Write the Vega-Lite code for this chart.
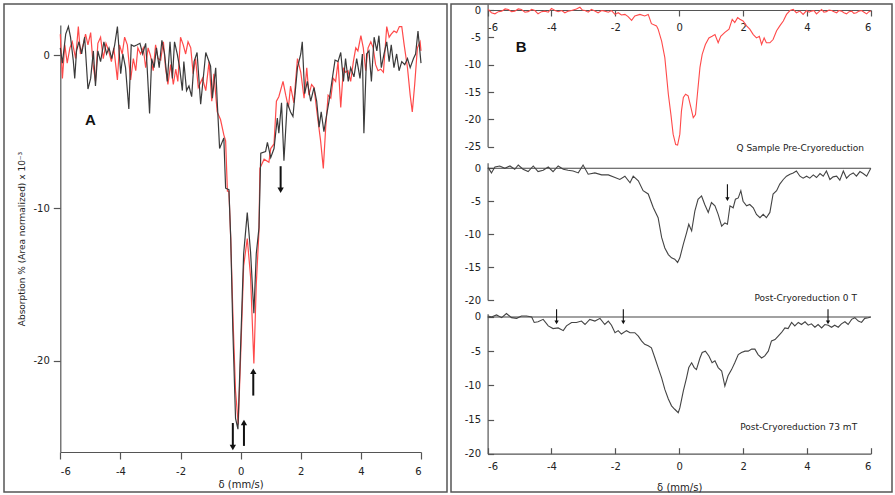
{
"$schema":"https://vega.github.io/schema/vega-lite/v6.json",
"padding":{"left":3,"top":3,"right":0,"bottom":0},
"background":"white",
"spacing":2,
"config":{
 "view":{"stroke":"#555","strokeWidth":1.5},
 "font":"DejaVu Sans",
 "axis":{"grid":false,"labelFont":"DejaVu Sans","labelFontSize":10,"labelColor":"#222","domainColor":"#555","tickColor":"#555","domainWidth":1.2,"tickWidth":1.2,"titleFont":"DejaVu Sans","titleFontWeight":"normal","titleColor":"#222"}
},
"datasets":{
 "ablack":[{"x":-6,"y":0.5},{"x":-5.93,"y":-0.5},{"x":-5.82,"y":1.4},{"x":-5.73,"y":1.9},{"x":-5.66,"y":1.2},{"x":-5.57,"y":-0.3},{"x":-5.52,"y":-1.5},{"x":-5.46,"y":0.3},{"x":-5.38,"y":0.9},{"x":-5.29,"y":0.1},{"x":-5.19,"y":1.2},{"x":-5.08,"y":-2.2},{"x":-4.99,"y":-1.5},{"x":-4.9,"y":0.3},{"x":-4.83,"y":-2.0},{"x":-4.75,"y":0.3},{"x":-4.66,"y":-0.4},{"x":-4.55,"y":0.9},{"x":-4.46,"y":0.1},{"x":-4.38,"y":0.5},{"x":-4.29,"y":-0.2},{"x":-4.19,"y":0.7},{"x":-4.1,"y":1.9},{"x":-3.99,"y":-1.2},{"x":-3.92,"y":0.1},{"x":-3.83,"y":-0.8},{"x":-3.72,"y":-3.5},{"x":-3.64,"y":0.7},{"x":-3.55,"y":0.6},{"x":-3.44,"y":0.7},{"x":-3.35,"y":0.8},{"x":-3.26,"y":0.1},{"x":-3.16,"y":0.8},{"x":-3.11,"y":-0.8},{"x":-3.03,"y":-3.8},{"x":-2.96,"y":-0.2},{"x":-2.88,"y":-0.8},{"x":-2.8,"y":0.5},{"x":-2.71,"y":-0.8},{"x":-2.62,"y":1.0},{"x":-2.53,"y":0.1},{"x":-2.44,"y":-1.7},{"x":-2.35,"y":0.9},{"x":-2.27,"y":-1.5},{"x":-2.2,"y":0.9},{"x":-2.11,"y":0.1},{"x":-2.03,"y":-0.8},{"x":-1.94,"y":-2.3},{"x":-1.89,"y":-0.4},{"x":-1.8,"y":-2.3},{"x":-1.72,"y":-2.0},{"x":-1.63,"y":-2.7},{"x":-1.55,"y":-0.4},{"x":-1.45,"y":0.2},{"x":-1.33,"y":-3.2},{"x":-1.16,"y":0.2},{"x":-1.0,"y":-0.7},{"x":-0.94,"y":-2.8},{"x":-0.83,"y":-0.8},{"x":-0.78,"y":-3.0},{"x":-0.7,"y":-6.1},{"x":-0.56,"y":-5.4},{"x":-0.5,"y":-8.7},{"x":-0.39,"y":-8.8},{"x":-0.33,"y":-12.0},{"x":-0.26,"y":-18.0},{"x":-0.17,"y":-23.8},{"x":-0.09,"y":-24.5},{"x":0.0,"y":-19.0},{"x":0.1,"y":-13.0},{"x":0.22,"y":-10.3},{"x":0.33,"y":-12.9},{"x":0.44,"y":-16.9},{"x":0.52,"y":-13.0},{"x":0.61,"y":-11.3},{"x":0.67,"y":-6.4},{"x":0.83,"y":-6.3},{"x":0.89,"y":-5.7},{"x":1.0,"y":-6.7},{"x":1.11,"y":-6.1},{"x":1.22,"y":-4.1},{"x":1.27,"y":-5.1},{"x":1.36,"y":-3.1},{"x":1.44,"y":-6.9},{"x":1.55,"y":-3.1},{"x":1.66,"y":-3.7},{"x":1.74,"y":-4.0},{"x":1.89,"y":-0.8},{"x":2.0,"y":0.1},{"x":2.05,"y":0.9},{"x":2.13,"y":-2.5},{"x":2.22,"y":-1.7},{"x":2.33,"y":-3.0},{"x":2.44,"y":-2.1},{"x":2.53,"y":-3.0},{"x":2.61,"y":-4.7},{"x":2.68,"y":-3.7},{"x":2.77,"y":-5.0},{"x":2.86,"y":-3.9},{"x":2.94,"y":-3.0},{"x":3.05,"y":-1.5},{"x":3.14,"y":-0.3},{"x":3.24,"y":-0.4},{"x":3.33,"y":0.2},{"x":3.42,"y":-1.7},{"x":3.49,"y":-0.2},{"x":3.58,"y":-1.7},{"x":3.66,"y":-0.8},{"x":3.77,"y":-1.4},{"x":3.86,"y":-0.2},{"x":3.97,"y":-1.5},{"x":4.05,"y":0.1},{"x":4.1,"y":-5.1},{"x":4.19,"y":0.1},{"x":4.27,"y":0.3},{"x":4.35,"y":-1.7},{"x":4.44,"y":1.2},{"x":4.53,"y":0.3},{"x":4.6,"y":1.3},{"x":4.68,"y":-0.8},{"x":4.77,"y":0.1},{"x":4.86,"y":0.9},{"x":4.94,"y":-0.4},{"x":5.01,"y":0.7},{"x":5.1,"y":-0.8},{"x":5.19,"y":0.1},{"x":5.27,"y":-1.0},{"x":5.36,"y":-0.4},{"x":5.46,"y":-0.6},{"x":5.55,"y":-0.2},{"x":5.64,"y":-0.8},{"x":5.75,"y":-0.2},{"x":5.82,"y":0.1},{"x":5.9,"y":1.6},{"x":6.0,"y":-0.5}],
 "ared":[{"x":-6,"y":1.4},{"x":-5.93,"y":-1.5},{"x":-5.85,"y":0.7},{"x":-5.77,"y":-0.5},{"x":-5.68,"y":0.5},{"x":-5.6,"y":0.9},{"x":-5.49,"y":-0.2},{"x":-5.4,"y":1.9},{"x":-5.33,"y":0.1},{"x":-5.24,"y":0.7},{"x":-5.16,"y":1.4},{"x":-5.08,"y":0.7},{"x":-4.99,"y":1.5},{"x":-4.91,"y":-0.6},{"x":-4.83,"y":-1.7},{"x":-4.75,"y":0.8},{"x":-4.66,"y":1.2},{"x":-4.57,"y":-0.2},{"x":-4.48,"y":0.8},{"x":-4.39,"y":0.3},{"x":-4.3,"y":-0.4},{"x":-4.22,"y":0.5},{"x":-4.1,"y":-1.6},{"x":-4.03,"y":0.7},{"x":-3.94,"y":0.1},{"x":-3.86,"y":1.2},{"x":-3.77,"y":0.7},{"x":-3.66,"y":-1.6},{"x":-3.57,"y":-0.2},{"x":-3.49,"y":-1.0},{"x":-3.42,"y":0.5},{"x":-3.33,"y":0.1},{"x":-3.24,"y":0.5},{"x":-3.16,"y":-0.8},{"x":-3.08,"y":0.5},{"x":-3.0,"y":0.0},{"x":-2.91,"y":-1.0},{"x":-2.83,"y":0.7},{"x":-2.75,"y":-0.2},{"x":-2.66,"y":-0.3},{"x":-2.57,"y":0.9},{"x":-2.5,"y":-0.8},{"x":-2.42,"y":-1.9},{"x":-2.33,"y":-0.6},{"x":-2.24,"y":-1.9},{"x":-2.16,"y":-0.9},{"x":-2.09,"y":-1.7},{"x":-2.0,"y":1.2},{"x":-1.91,"y":0.7},{"x":-1.83,"y":0.1},{"x":-1.75,"y":0.9},{"x":-1.66,"y":0.5},{"x":-1.58,"y":-1.2},{"x":-1.5,"y":-0.2},{"x":-1.41,"y":-2.1},{"x":-1.27,"y":-1.5},{"x":-1.16,"y":-2.3},{"x":-1.05,"y":-0.4},{"x":-0.96,"y":-3.0},{"x":-0.89,"y":-1.2},{"x":-0.78,"y":-3.7},{"x":-0.67,"y":-4.2},{"x":-0.56,"y":-5.2},{"x":-0.5,"y":-5.6},{"x":-0.44,"y":-8.9},{"x":-0.39,"y":-8.9},{"x":-0.33,"y":-12.0},{"x":-0.25,"y":-17.5},{"x":-0.17,"y":-22.0},{"x":-0.08,"y":-24.2},{"x":0.0,"y":-19.7},{"x":0.1,"y":-13.8},{"x":0.22,"y":-12.0},{"x":0.33,"y":-14.5},{"x":0.44,"y":-20.2},{"x":0.52,"y":-15.0},{"x":0.61,"y":-11.5},{"x":0.64,"y":-7.4},{"x":0.78,"y":-6.8},{"x":0.94,"y":-7.0},{"x":1.0,"y":-6.1},{"x":1.11,"y":-5.8},{"x":1.19,"y":-3.0},{"x":1.27,"y":-2.7},{"x":1.41,"y":-1.7},{"x":1.5,"y":-2.6},{"x":1.59,"y":-3.4},{"x":1.66,"y":-2.0},{"x":1.77,"y":-3.1},{"x":1.89,"y":-0.2},{"x":2.0,"y":-1.1},{"x":2.11,"y":-2.8},{"x":2.2,"y":-0.8},{"x":2.27,"y":-2.6},{"x":2.36,"y":-1.9},{"x":2.44,"y":-2.1},{"x":2.55,"y":-3.9},{"x":2.66,"y":-5.6},{"x":2.75,"y":-7.4},{"x":2.83,"y":-4.7},{"x":2.91,"y":-2.6},{"x":3.0,"y":-2.8},{"x":3.08,"y":-1.5},{"x":3.16,"y":-1.7},{"x":3.24,"y":-0.4},{"x":3.33,"y":-3.4},{"x":3.42,"y":-0.8},{"x":3.49,"y":-1.1},{"x":3.57,"y":-1.0},{"x":3.66,"y":-1.7},{"x":3.75,"y":-0.4},{"x":3.83,"y":0.5},{"x":3.9,"y":0.3},{"x":4.0,"y":1.3},{"x":4.08,"y":0.5},{"x":4.16,"y":-1.0},{"x":4.24,"y":0.5},{"x":4.33,"y":0.9},{"x":4.41,"y":0.5},{"x":4.49,"y":-0.6},{"x":4.57,"y":-1.0},{"x":4.66,"y":-0.9},{"x":4.75,"y":-1.1},{"x":4.86,"y":1.9},{"x":4.94,"y":1.2},{"x":5.01,"y":1.4},{"x":5.1,"y":1.6},{"x":5.19,"y":1.5},{"x":5.28,"y":1.9},{"x":5.36,"y":1.9},{"x":5.44,"y":0.7},{"x":5.55,"y":-0.8},{"x":5.64,"y":-2.6},{"x":5.71,"y":-3.7},{"x":5.79,"y":-1.9},{"x":5.88,"y":0.5},{"x":5.97,"y":0.9},{"x":6.0,"y":0.3}],
 "b1":[{"x":-5.98,"y":0.1},{"x":-5.88,"y":-0.5},{"x":-5.77,"y":-0.7},{"x":-5.66,"y":-0.3},{"x":-5.56,"y":-0.2},{"x":-5.45,"y":0.2},{"x":-5.35,"y":0.1},{"x":-5.25,"y":-0.3},{"x":-5.15,"y":-0.2},{"x":-5.04,"y":0.2},{"x":-4.94,"y":0.1},{"x":-4.83,"y":-0.4},{"x":-4.73,"y":-0.3},{"x":-4.62,"y":0.1},{"x":-4.52,"y":-0.1},{"x":-4.42,"y":-0.7},{"x":-4.31,"y":-0.3},{"x":-4.21,"y":-0.2},{"x":-4.1,"y":-0.4},{"x":-4.0,"y":0.3},{"x":-3.89,"y":-0.1},{"x":-3.79,"y":-0.3},{"x":-3.68,"y":-0.1},{"x":-3.58,"y":-0.5},{"x":-3.47,"y":-0.2},{"x":-3.37,"y":-0.1},{"x":-3.22,"y":0.2},{"x":-3.11,"y":0.5},{"x":-3.03,"y":0.0},{"x":-2.95,"y":-0.1},{"x":-2.85,"y":-0.4},{"x":-2.75,"y":0.1},{"x":-2.64,"y":-0.2},{"x":-2.54,"y":-0.5},{"x":-2.43,"y":-0.1},{"x":-2.33,"y":-0.2},{"x":-2.22,"y":-0.4},{"x":-2.12,"y":-0.1},{"x":-2.01,"y":-0.8},{"x":-1.91,"y":-0.5},{"x":-1.81,"y":-0.9},{"x":-1.7,"y":-0.8},{"x":-1.6,"y":-1.2},{"x":-1.49,"y":-1.9},{"x":-1.39,"y":-1.1},{"x":-1.23,"y":-0.8},{"x":-1.08,"y":-1.1},{"x":-0.97,"y":-0.8},{"x":-0.87,"y":-2.5},{"x":-0.71,"y":-2.9},{"x":-0.66,"y":-3.5},{"x":-0.55,"y":-5.7},{"x":-0.45,"y":-8.7},{"x":-0.34,"y":-15.4},{"x":-0.26,"y":-19.1},{"x":-0.19,"y":-22.7},{"x":-0.11,"y":-24.6},{"x":-0.05,"y":-24.7},{"x":0.02,"y":-22.7},{"x":0.07,"y":-18.5},{"x":0.13,"y":-16.0},{"x":0.2,"y":-15.4},{"x":0.28,"y":-15.7},{"x":0.37,"y":-17.9},{"x":0.44,"y":-19.7},{"x":0.51,"y":-19.1},{"x":0.57,"y":-15.4},{"x":0.65,"y":-10.5},{"x":0.72,"y":-8.1},{"x":0.82,"y":-6.3},{"x":0.93,"y":-5.1},{"x":1.03,"y":-4.8},{"x":1.12,"y":-4.5},{"x":1.22,"y":-6.0},{"x":1.3,"y":-4.8},{"x":1.43,"y":-4.1},{"x":1.56,"y":-3.5},{"x":1.66,"y":-1.7},{"x":1.74,"y":-2.3},{"x":1.83,"y":-1.4},{"x":1.9,"y":-1.7},{"x":2.0,"y":-2.0},{"x":2.11,"y":-2.9},{"x":2.21,"y":-3.5},{"x":2.32,"y":-4.5},{"x":2.42,"y":-5.1},{"x":2.51,"y":-4.8},{"x":2.58,"y":-6.3},{"x":2.66,"y":-5.1},{"x":2.73,"y":-6.0},{"x":2.84,"y":-6.0},{"x":2.94,"y":-5.4},{"x":3.05,"y":-3.8},{"x":3.15,"y":-2.9},{"x":3.26,"y":-2.0},{"x":3.36,"y":-0.8},{"x":3.47,"y":-0.1},{"x":3.57,"y":0.1},{"x":3.67,"y":-0.5},{"x":3.78,"y":-0.2},{"x":3.88,"y":-0.8},{"x":3.99,"y":-0.1},{"x":4.07,"y":-0.4},{"x":4.14,"y":-0.2},{"x":4.22,"y":-0.1},{"x":4.3,"y":-0.7},{"x":4.38,"y":-0.3},{"x":4.46,"y":0.1},{"x":4.53,"y":-0.4},{"x":4.61,"y":-0.3},{"x":4.69,"y":0.0},{"x":4.77,"y":-0.1},{"x":4.85,"y":-0.3},{"x":4.93,"y":-0.5},{"x":5.0,"y":-0.1},{"x":5.08,"y":-0.2},{"x":5.16,"y":-0.5},{"x":5.24,"y":-0.7},{"x":5.32,"y":-0.3},{"x":5.4,"y":-0.2},{"x":5.47,"y":-0.6},{"x":5.55,"y":-0.5},{"x":5.63,"y":-0.2},{"x":5.71,"y":-0.1},{"x":5.79,"y":-0.4},{"x":5.87,"y":-0.7},{"x":5.94,"y":-0.3},{"x":6.0,"y":-0.2}],
 "b2":[{"x":-5.98,"y":0.1},{"x":-5.88,"y":-0.7},{"x":-5.77,"y":0.2},{"x":-5.62,"y":0.35},{"x":-5.46,"y":0},{"x":-5.3,"y":0.35},{"x":-5.15,"y":-0.15},{"x":-5.04,"y":0.5},{"x":-4.89,"y":-0.15},{"x":-4.73,"y":-0.5},{"x":-4.57,"y":0.35},{"x":-4.42,"y":-0.5},{"x":-4.26,"y":-0.3},{"x":-4.1,"y":0.2},{"x":-3.95,"y":-0.5},{"x":-3.79,"y":0.35},{"x":-3.63,"y":-0.15},{"x":-3.48,"y":-0.3},{"x":-3.32,"y":-0.4},{"x":-3.16,"y":-0.7},{"x":-3.01,"y":0.5},{"x":-2.85,"y":-0.9},{"x":-2.64,"y":-0.7},{"x":-2.43,"y":-1.0},{"x":-2.22,"y":-1.0},{"x":-2.01,"y":-1.4},{"x":-1.86,"y":-1.7},{"x":-1.7,"y":-1.2},{"x":-1.54,"y":-2.2},{"x":-1.44,"y":-1.2},{"x":-1.28,"y":-1.9},{"x":-1.13,"y":-3.4},{"x":-0.97,"y":-3.9},{"x":-0.81,"y":-6.0},{"x":-0.66,"y":-7.5},{"x":-0.55,"y":-10.5},{"x":-0.45,"y":-12.1},{"x":-0.34,"y":-13.1},{"x":-0.24,"y":-13.6},{"x":-0.14,"y":-13.8},{"x":-0.05,"y":-14.3},{"x":0.02,"y":-13.6},{"x":0.13,"y":-11.5},{"x":0.23,"y":-9.8},{"x":0.3,"y":-8.5},{"x":0.39,"y":-9.5},{"x":0.49,"y":-6.5},{"x":0.59,"y":-4.7},{"x":0.7,"y":-4.2},{"x":0.8,"y":-5.5},{"x":0.91,"y":-6.7},{"x":1.01,"y":-5.2},{"x":1.12,"y":-5.7},{"x":1.22,"y":-7.0},{"x":1.33,"y":-8.8},{"x":1.43,"y":-8.3},{"x":1.51,"y":-8.5},{"x":1.59,"y":-5.7},{"x":1.69,"y":-6.0},{"x":1.76,"y":-4.7},{"x":1.85,"y":-4.5},{"x":1.93,"y":-3.4},{"x":2.0,"y":-5.0},{"x":2.11,"y":-5.7},{"x":2.21,"y":-5.5},{"x":2.32,"y":-6.0},{"x":2.42,"y":-7.0},{"x":2.53,"y":-7.5},{"x":2.63,"y":-7.0},{"x":2.73,"y":-7.5},{"x":2.84,"y":-6.7},{"x":2.94,"y":-3.9},{"x":3.05,"y":-3.4},{"x":3.15,"y":-2.4},{"x":3.26,"y":-1.7},{"x":3.36,"y":-1.2},{"x":3.47,"y":-0.9},{"x":3.57,"y":-0.7},{"x":3.67,"y":-0.4},{"x":3.78,"y":-1.2},{"x":3.88,"y":-1.5},{"x":3.99,"y":-1.2},{"x":4.09,"y":-1.5},{"x":4.2,"y":-1.0},{"x":4.3,"y":-1.4},{"x":4.41,"y":-0.8},{"x":4.51,"y":-1.2},{"x":4.61,"y":-0.4},{"x":4.72,"y":-1.7},{"x":4.82,"y":-1.3},{"x":4.93,"y":-1.2},{"x":5.03,"y":-1.8},{"x":5.14,"y":-0.4},{"x":5.24,"y":-1.5},{"x":5.34,"y":-1.0},{"x":5.45,"y":-0.7},{"x":5.55,"y":-1.2},{"x":5.66,"y":-0.5},{"x":5.76,"y":-0.8},{"x":5.87,"y":-1.2},{"x":6.0,"y":0}],
 "b3":[{"x":-5.98,"y":0.15},{"x":-5.88,"y":0},{"x":-5.72,"y":0.3},{"x":-5.56,"y":-0.1},{"x":-5.41,"y":0.5},{"x":-5.25,"y":-0.1},{"x":-5.09,"y":-0.2},{"x":-4.94,"y":0.15},{"x":-4.78,"y":0.15},{"x":-4.62,"y":0},{"x":-4.54,"y":-0.8},{"x":-4.42,"y":-0.7},{"x":-4.26,"y":-0.35},{"x":-4.1,"y":-1.3},{"x":-3.95,"y":-1.7},{"x":-3.79,"y":-1.6},{"x":-3.63,"y":-2.0},{"x":-3.53,"y":-1.3},{"x":-3.37,"y":-0.8},{"x":-3.22,"y":-0.8},{"x":-3.06,"y":-0.6},{"x":-2.95,"y":-1.1},{"x":-2.8,"y":-0.35},{"x":-2.64,"y":-0.6},{"x":-2.48,"y":-0.2},{"x":-2.33,"y":-1.1},{"x":-2.22,"y":-0.6},{"x":-2.12,"y":-1.2},{"x":-2.01,"y":-2.3},{"x":-1.91,"y":-2.0},{"x":-1.81,"y":-2.5},{"x":-1.65,"y":-2.0},{"x":-1.54,"y":-2.3},{"x":-1.39,"y":-2.3},{"x":-1.28,"y":-2.8},{"x":-1.18,"y":-3.5},{"x":-1.08,"y":-4.0},{"x":-0.97,"y":-4.2},{"x":-0.87,"y":-4.5},{"x":-0.76,"y":-6.0},{"x":-0.66,"y":-7.4},{"x":-0.55,"y":-8.9},{"x":-0.45,"y":-10.6},{"x":-0.34,"y":-12.0},{"x":-0.24,"y":-13.0},{"x":-0.14,"y":-13.5},{"x":-0.03,"y":-14.0},{"x":0.02,"y":-13.3},{"x":0.13,"y":-10.8},{"x":0.23,"y":-8.9},{"x":0.3,"y":-7.4},{"x":0.39,"y":-6.7},{"x":0.47,"y":-7.4},{"x":0.54,"y":-7.7},{"x":0.65,"y":-6.0},{"x":0.72,"y":-5.2},{"x":0.82,"y":-5.0},{"x":0.93,"y":-5.7},{"x":1.03,"y":-6.7},{"x":1.12,"y":-6.4},{"x":1.22,"y":-7.4},{"x":1.33,"y":-7.9},{"x":1.43,"y":-10.1},{"x":1.53,"y":-8.6},{"x":1.64,"y":-7.7},{"x":1.74,"y":-6.7},{"x":1.85,"y":-5.5},{"x":1.95,"y":-5.2},{"x":2.06,"y":-5.0},{"x":2.16,"y":-5.0},{"x":2.27,"y":-4.7},{"x":2.37,"y":-4.7},{"x":2.47,"y":-5.5},{"x":2.58,"y":-6.0},{"x":2.68,"y":-5.7},{"x":2.79,"y":-5.0},{"x":2.89,"y":-3.5},{"x":3.0,"y":-3.3},{"x":3.1,"y":-2.8},{"x":3.2,"y":-2.3},{"x":3.31,"y":-1.6},{"x":3.41,"y":-1.7},{"x":3.52,"y":-0.8},{"x":3.62,"y":-1.3},{"x":3.73,"y":-0.8},{"x":3.83,"y":-1.1},{"x":3.94,"y":-0.7},{"x":4.04,"y":-1.2},{"x":4.14,"y":-1.0},{"x":4.25,"y":-1.5},{"x":4.35,"y":-1.1},{"x":4.46,"y":-1.6},{"x":4.56,"y":-1.1},{"x":4.67,"y":-1.2},{"x":4.77,"y":-1.5},{"x":4.87,"y":-1.2},{"x":4.98,"y":-1.5},{"x":5.08,"y":-1.0},{"x":5.19,"y":-0.7},{"x":5.29,"y":-1.1},{"x":5.4,"y":-0.35},{"x":5.5,"y":-0.1},{"x":5.61,"y":-0.6},{"x":5.71,"y":-0.8},{"x":5.81,"y":-0.2},{"x":5.92,"y":-0.1},{"x":6.0,"y":0}]
},
"hconcat":[
 {
  "width":443,"height":488,
  "encoding":{
   "x":{"field":"x","type":"quantitative","scale":{"domain":[-6,6],"range":[56.3,417],"nice":false,"zero":false},
     "axis":{"orient":"bottom","offset":-40,"values":[-6,-4,-2,0,2,4,6],"tickSize":7,"labelPadding":7,"labelExpr":"'' + datum.value","title":"δ (mm/s)","titleFontSize":10,"titlePadding":3}},
   "y":{"field":"y","type":"quantitative","scale":{"domain":[-26,2],"range":[448,21],"nice":false,"zero":false},
     "axis":{"orient":"left","offset":-56.3,"values":[0,-10,-20],"tickSize":7,"labelPadding":4,"labelExpr":"'' + datum.value","title":"Absorption % (Area normalized) x 10⁻³","titleFontSize":9,"titlePadding":6}}
  },
  "layer":[
   {"data":{"name":"ared"},"mark":{"type":"line","color":"#ff4a4a","strokeWidth":1.2}},
   {"data":{"name":"ablack"},"mark":{"type":"line","color":"#3a3a3a","strokeWidth":1.2}},
   {"data":{"values":[{"x":1.33,"y":-7.26,"y2":-8.83},{"x":-0.26,"y":-24.1,"y2":-25.7},{"x":0.11,"y":-25.6,"y2":-24.07},{"x":0.42,"y":-22.3,"y2":-20.7}]},
    "mark":{"type":"rule","color":"#111","strokeWidth":2},
    "encoding":{"y2":{"field":"y2"}}},
   {"data":{"values":[{"x":1.33,"y":-8.83,"dir":"down"},{"x":-0.26,"y":-25.7,"dir":"down"},{"x":0.11,"y":-24.07,"dir":"up"},{"x":0.42,"y":-20.7,"dir":"up"}]},
    "mark":{"type":"point","filled":true,"color":"#111","opacity":1,"size":40},
    "encoding":{"shape":{"field":"dir","type":"nominal","scale":{"domain":["up","down"],"range":["triangle-up","triangle-down"]},"legend":null}}},
   {"data":{"values":[{"t":"A","x":-5.0,"y":-4.2}]},
    "mark":{"type":"text","font":"Liberation Sans","fontWeight":"bold","fontSize":15,"color":"#111"},
    "encoding":{"text":{"field":"t"}}}
  ]
 },
 {
  "width":441,"height":488,
  "resolve":{"scale":{"y":"independent"},"axis":{"x":"independent","y":"independent"}},
  "layer":[
   {
    "encoding":{
     "x":{"field":"x","type":"quantitative","scale":{"domain":[-6,6],"range":[36.6,419.8],"nice":false,"zero":false},
       "axis":{"orient":"bottom","offset":-482,"values":[-6,-4,-2,0,2,4,6],"tickSize":6,"labelPadding":6,"labelExpr":"'' + datum.value","title":null}},
     "y":{"field":"y","type":"quantitative","scale":{"domain":[-25,1.1],"range":[142.7,0],"nice":false,"zero":false},
       "axis":{"orient":"left","offset":-36.6,"values":[0,-5,-10,-15,-20,-25],"tickSize":-6,"labelPadding":13,"labelExpr":"'' + datum.value","title":null}}
    },
    "layer":[
     {"data":{"name":"b1"},"mark":{"type":"line","color":"#ff4a4a","strokeWidth":1.1}},
     {"data":{"values":[{"t":"B","x":-4.95,"y":-6.8}]},
      "mark":{"type":"text","font":"Liberation Sans","fontWeight":"bold","fontSize":15,"color":"#111"},
      "encoding":{"text":{"field":"t"}}},
     {"data":{"values":[{"t":"Q Sample Pre-Cryoreduction","x":3.79,"y":-25.2}]},
      "mark":{"type":"text","fontSize":9,"color":"#222"},
      "encoding":{"text":{"field":"t"}}}
    ]
   },
   {
    "encoding":{
     "x":{"field":"x","type":"quantitative","scale":{"domain":[-6,6],"range":[36.6,419.8],"nice":false,"zero":false},"axis":null},
     "y":{"field":"y","type":"quantitative","scale":{"domain":[-20,0.85],"range":[296,158.7],"nice":false,"zero":false},
       "axis":{"orient":"left","offset":-36.6,"values":[0,-5,-10,-15,-20],"tickSize":-6,"labelPadding":13,"labelExpr":"'' + datum.value","title":null}}
    },
    "layer":[
     {"data":{"values":[{"x":-6,"x2":6,"y":0}]},"mark":{"type":"rule","color":"#444","strokeWidth":1.1},
      "encoding":{"x2":{"field":"x2"}}},
     {"data":{"name":"b2"},"mark":{"type":"line","color":"#444","strokeWidth":1.1}},
     {"data":{"values":[{"x":1.51,"y":-2.43,"y2":-4.67}]},
      "mark":{"type":"rule","color":"#111","strokeWidth":1.1},
      "encoding":{"y2":{"field":"y2"}}},
     {"data":{"values":[{"x":1.51,"y":-4.67,"dir":"down"}]},
      "mark":{"type":"point","filled":true,"color":"#111","opacity":1,"size":18},
      "encoding":{"shape":{"field":"dir","type":"nominal","scale":{"domain":["up","down"],"range":["triangle-up","triangle-down"]},"legend":null}}},
     {"data":{"values":[{"t":"Post-Cryoreduction 0 T","x":3.96,"y":-19.65}]},
      "mark":{"type":"text","fontSize":9,"color":"#222"},
      "encoding":{"text":{"field":"t"}}}
    ]
   },
   {
    "encoding":{
     "x":{"field":"x","type":"quantitative","scale":{"domain":[-6,6],"range":[36.6,419.8],"nice":false,"zero":false},
       "axis":{"orient":"bottom","offset":-38.3,"values":[-6,-4,-2,0,2,4,6],"tickSize":-6,"labelPadding":14,"labelExpr":"'' + datum.value","title":"δ (mm/s)","titleFontSize":10,"titlePadding":11}},
     "y":{"field":"y","type":"quantitative","scale":{"domain":[-20,0.48],"range":[449.7,309.7],"nice":false,"zero":false},
       "axis":{"orient":"left","offset":-36.6,"values":[0,-5,-10,-15,-20],"tickSize":-6,"labelPadding":13,"labelExpr":"'' + datum.value","title":null}}
    },
    "layer":[
     {"data":{"values":[{"x":-6,"x2":6,"y":0}]},"mark":{"type":"rule","color":"#444","strokeWidth":1.1},
      "encoding":{"x2":{"field":"x2"}}},
     {"data":{"name":"b3"},"mark":{"type":"line","color":"#444","strokeWidth":1.1}},
     {"data":{"values":[{"x":-3.84,"y":1.13,"y2":-0.78},{"x":-1.75,"y":1.13,"y2":-0.78},{"x":4.66,"y":1.13,"y2":-0.78}]},
      "mark":{"type":"rule","color":"#111","strokeWidth":1.1},
      "encoding":{"y2":{"field":"y2"}}},
     {"data":{"values":[{"x":-3.84,"y":-0.78,"dir":"down"},{"x":-1.75,"y":-0.78,"dir":"down"},{"x":4.66,"y":-0.78,"dir":"down"}]},
      "mark":{"type":"point","filled":true,"color":"#111","opacity":1,"size":18},
      "encoding":{"shape":{"field":"dir","type":"nominal","scale":{"domain":["up","down"],"range":["triangle-up","triangle-down"]},"legend":null}}},
     {"data":{"values":[{"t":"Post-Cryoreduction 73 mT","x":3.74,"y":-16.1}]},
      "mark":{"type":"text","fontSize":9,"color":"#222"},
      "encoding":{"text":{"field":"t"}}}
    ]
   }
  ]
 }
]
}
